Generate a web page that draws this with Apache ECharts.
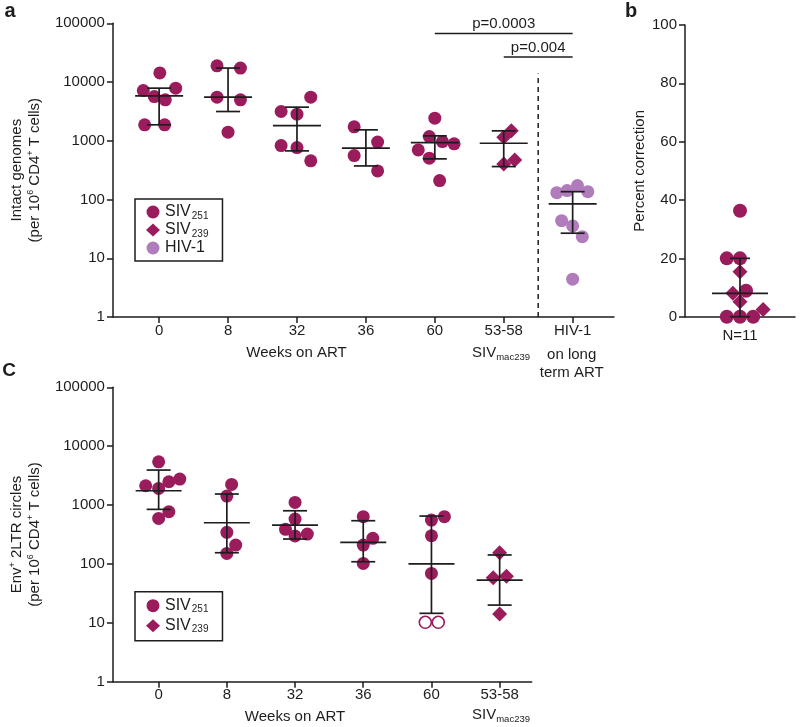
<!DOCTYPE html>
<html><head><meta charset="utf-8">
<script src="https://cdn.jsdelivr.net/npm/echarts@6/dist/echarts.min.js"></script>
<style>html,body{margin:0;padding:0;background:#fff}#c{width:800px;height:727px}</style>
</head><body><div id="c"></div>
<script>
// ---------- DATA ----------
const catA = ['0', '8', '32', '36', '60', '53-58', 'HIV-1'];
const catC = ['0', '8', '32', '36', '60', '53-58'];
// points: [category index, horizontal jitter (category units), value]
const aSIV251 = [
  [0, 0.01, 14300], [0, -0.23, 7160], [0, 0.24, 7870], [0, -0.07, 5660], [0, 0.09, 4980], [0, -0.21, 1870], [0, 0.08, 1870],
  [1, -0.16, 18900], [1, 0.18, 17300], [1, -0.16, 5530], [1, 0.18, 4980], [1, 0, 1400],
  [2, -0.23, 3150], [2, 0, 2840], [2, 0.2, 5530], [2, -0.23, 830], [2, 0, 765], [2, 0.2, 455],
  [3, -0.17, 1730], [3, 0.17, 950], [3, -0.17, 560], [3, 0.17, 307],
  [4, 0, 2430], [4, -0.08, 1180], [4, 0.11, 970], [4, 0.28, 886], [4, -0.24, 700], [4, -0.08, 505], [4, 0.07, 210]
];
const aSIV239 = [[5, 0.11, 1475], [5, 0, 1150], [5, 0.16, 473], [5, 0, 404]];
const aHIV = [[6, -0.23, 131], [6, -0.08, 142], [6, 0.07, 173], [6, 0.22, 136], [6, -0.16, 43.7], [6, 0, 35.5], [6, 0.14, 23.3], [6, 0, 4.4]];
// error bars: [category index, median, low, high]
const aBars = [[0, 5820, 1870, 7870], [1, 5530, 3150, 17300], [2, 1815, 673, 3735], [3, 748, 373, 1535], [4, 931, 492, 1212], [5, 908, 364, 1475], [6, 84, 26.7, 136]];
// significance brackets: [from category, to category, level]
const aSig = [[4, 6, 67000], [5, 6, 26600]];
const aSigLabels = ['p=0.0003', 'p=0.004'];
const aDivider = [[5.5, 1], [5.5, 14000]];

// panel b: [jitter, percent]
const bSIV251 = [[0, 36.3], [-0.24, 20], [0, 20], [0.11, 8.9], [-0.24, 0], [0, 0], [0.24, 0]];
const bSIV239 = [[0, 15.4], [-0.13, 8.0], [0, 5.1], [0.42, 2.5]];
const bBars = [[0, 8.0, 0, 20]];

// panel c
const cSIV251 = [
  [0, 0, 5430], [0, -0.19, 2130], [0, 0, 1920], [0, 0.15, 2490], [0, 0.31, 2760], [0, 0.15, 770], [0, 0, 594],
  [1, 0.07, 2245], [1, 0, 1420], [1, 0, 344], [1, 0.13, 209], [1, 0, 151],
  [2, 0, 1110], [2, 0, 578], [2, -0.14, 387], [2, 0, 298], [2, 0.18, 322],
  [3, 0, 634], [3, 0.14, 272], [3, 0, 209], [3, 0, 102],
  [4, 0, 556], [4, 0.19, 634], [4, 0, 301], [4, 0, 69]
];
const cSIV251Undetected = [[4, -0.09, 10.2], [4, 0.1, 10.2]];
const cSIV239 = [[5, 0, 155], [5, -0.095, 58], [5, 0.1, 62], [5, 0, 14.1]];
const cBars = [[0, 1750, 845, 3930], [1, 501, 155, 1540], [2, 457, 265, 800], [3, 233, 109, 542], [4, 100, 14.5, 650], [5, 53, 20, 142]];

// ---------- STYLE ----------
const FONT = 'Liberation Sans, Arial, Helvetica, sans-serif';
const MAIN = '#9b1c5d';
const HIVC = '#b07cbc';
const INK = '#1d1d1d';

const chart = echarts.init(document.getElementById('c'), null, {renderer: 'canvas'});

const toXY = pts => pts.map(p => [p[0] + p[1], p[2]]);

function errRenderer(mw, cw) {
  return function (params, api) {
    const x = api.value(0), m = api.value(1), lo = api.value(2), hi = api.value(3);
    const pm = api.coord([x, m]), pl = api.coord([x, lo]), ph = api.coord([x, hi]);
    const st = {stroke: INK, lineWidth: 1.7};
    return {type: 'group', children: [
      {type: 'line', shape: {x1: pl[0], y1: pl[1], x2: ph[0], y2: ph[1]}, style: st},
      {type: 'line', shape: {x1: pm[0] - mw, y1: pm[1], x2: pm[0] + mw, y2: pm[1]}, style: st},
      {type: 'line', shape: {x1: ph[0] - cw, y1: ph[1], x2: ph[0] + cw, y2: ph[1]}, style: st},
      {type: 'line', shape: {x1: pl[0] - cw, y1: pl[1], x2: pl[0] + cw, y2: pl[1]}, style: st}
    ]};
  };
}

const logY = (gi) => ({
  type: 'log', logBase: 10, min: 1, max: 100000, gridIndex: gi,
  axisLine: {show: true, onZero: false, lineStyle: {color: INK, width: 1.5}},
  axisTick: {show: true, length: 6, lineStyle: {color: INK, width: 1.5}},
  splitLine: {show: false}, minorTick: {show: false},
  axisLabel: {color: INK, fontSize: 15, fontFamily: FONT, margin: 8, formatter: v => String(Math.round(v))},
  nameLocation: 'middle', nameRotate: 90, nameGap: 62,
  nameTextStyle: {color: INK, fontSize: 15, fontFamily: FONT, lineHeight: 18,
    rich: {t: {fontSize: 15, fontFamily: FONT, color: INK, lineHeight: 18},
           sup: {fontSize: 9, fontFamily: FONT, color: INK, lineHeight: 18, verticalAlign: 'top'}}}
});

const catX = (gi, cats, min, max) => ({
  type: 'value', gridIndex: gi, min: min, max: max,
  axisLine: {show: true, onZero: false, lineStyle: {color: INK, width: 1.5}},
  axisTick: {show: true, length: 6, customValues: cats.map((c, i) => i), lineStyle: {color: INK, width: 1.5}},
  axisLabel: {customValues: cats.map((c, i) => i), color: INK, fontSize: 15, fontFamily: FONT, margin: 6,
    formatter: v => cats[Math.round(v)]},
  splitLine: {show: false}
});

const legendRich = {
  t: {fontSize: 16, fontFamily: FONT, color: INK, lineHeight: 18},
  sub: {fontSize: 10, fontFamily: FONT, color: INK, lineHeight: 18, verticalAlign: 'bottom', padding: [0, 0, 0, 1]}
};
const legendFmt = name => name === 'SIV251' ? '{t|SIV}{sub|251}' : name === 'SIV239' ? '{t|SIV}{sub|239}' : '{t|' + name + '}';

const gtext = (x, y, text, extra) => Object.assign({
  type: 'text', x: x, y: y,
  style: Object.assign({text: text, fill: INK, font: '15px ' + FONT, align: 'center', verticalAlign: 'middle'}, extra || {})
});

const option = {
  animation: false,
  backgroundColor: '#fff',
  textStyle: {fontFamily: FONT},
  grid: [
    {left: 106, top: 23.3, width: 508, height: 293.7},
    {left: 685, top: 25, width: 110, height: 291.7},
    {left: 105.3, top: 387.3, width: 426.4, height: 294.4}
  ],
  xAxis: [
    catX(0, catA, -0.67, 6.6),
    {type: 'value', gridIndex: 1, min: -1, max: 1,
      axisLine: {show: true, onZero: false, lineStyle: {color: INK, width: 1.5}},
      axisTick: {show: true, length: 6, customValues: [0], lineStyle: {color: INK, width: 1.5}},
      axisLabel: {customValues: [0], color: INK, fontSize: 15, fontFamily: FONT, margin: 12, formatter: () => 'N=11'},
      splitLine: {show: false}},
    catX(2, catC, -0.67, 5.47)
  ],
  yAxis: [
    Object.assign(logY(0), {name: '{t|Intact genomes}\n{t|(per 10}{sup|6}{t| CD4}{sup|+}{t| T cells)}'}),
    {type: 'value', gridIndex: 1, min: 0, max: 100, interval: 20,
      axisLine: {show: true, onZero: false, lineStyle: {color: INK, width: 1.5}},
      axisTick: {show: true, length: 6, lineStyle: {color: INK, width: 1.5}},
      splitLine: {show: false},
      axisLabel: {color: INK, fontSize: 15, fontFamily: FONT, margin: 8},
      name: 'Percent correction', nameLocation: 'middle', nameRotate: 90, nameGap: 38,
      nameTextStyle: {color: INK, fontSize: 15, fontFamily: FONT}},
    Object.assign(logY(2), {name: '{t|Env}{sup|+}{t| 2LTR circles}\n{t|(per 10}{sup|6}{t| CD4}{sup|+}{t| T cells)}'})
  ],
  legend: [
    {left: 135, top: 199, orient: 'vertical', itemWidth: 14, itemHeight: 13, itemGap: 1,
      padding: [5, 14, 5, 11], borderColor: INK, borderWidth: 1.5, selectedMode: false,
      data: [{name: 'SIV251', icon: 'circle'}, {name: 'SIV239', icon: 'diamond'}, {name: 'HIV-1', icon: 'circle'}],
      formatter: legendFmt, textStyle: {rich: legendRich}},
    {left: 135, top: 591.7, orient: 'vertical', itemWidth: 14, itemHeight: 13, itemGap: 3,
      padding: [6, 14, 6, 11], borderColor: INK, borderWidth: 1.5, selectedMode: false,
      data: [{name: 'SIV251', icon: 'circle'}, {name: 'SIV239', icon: 'diamond'}],
      formatter: legendFmt, textStyle: {rich: legendRich}}
  ],
  series: [
    // panel a
    {name: 'SIV251', type: 'scatter', xAxisIndex: 0, yAxisIndex: 0, symbol: 'circle', symbolSize: 13, clip: false,
      itemStyle: {color: MAIN, opacity: 1}, data: toXY(aSIV251), z: 2},
    {name: 'SIV239', type: 'scatter', xAxisIndex: 0, yAxisIndex: 0, symbol: 'diamond', symbolSize: 15, clip: false,
      itemStyle: {color: MAIN, opacity: 1}, data: toXY(aSIV239), z: 2},
    {name: 'HIV-1', type: 'scatter', xAxisIndex: 0, yAxisIndex: 0, symbol: 'circle', symbolSize: 13, clip: false,
      itemStyle: {color: HIVC, opacity: 1}, data: toXY(aHIV), z: 2},
    {type: 'custom', xAxisIndex: 0, yAxisIndex: 0, renderItem: errRenderer(24, 12), data: aBars, z: 5, clip: false,
      encode: {x: 0, y: [1, 2, 3]}, silent: true},
    {type: 'line', xAxisIndex: 0, yAxisIndex: 0, data: aDivider, symbol: 'none', silent: true,
      lineStyle: {color: INK, width: 1.5, type: [5, 4]}},
    {type: 'custom', xAxisIndex: 0, yAxisIndex: 0, clip: false, silent: true, data: aSig, z: 5,
      encode: {x: [0, 1], y: 2},
      renderItem: function (params, api) {
        const p1 = api.coord([api.value(0), api.value(2)]);
        const p2 = api.coord([api.value(1), api.value(2)]);
        return {type: 'group', children: [
          {type: 'line', shape: {x1: p1[0], y1: p1[1], x2: p2[0], y2: p2[1]}, style: {stroke: INK, lineWidth: 1.5}},
          {type: 'text', x: (p1[0] + p2[0]) / 2, y: p1[1] - 2,
            style: {text: aSigLabels[params.dataIndex], fill: INK, font: '15px ' + FONT, align: 'center', verticalAlign: 'bottom'}}
        ]};
      }},
    // panel b
    {name: 'SIV251', type: 'scatter', xAxisIndex: 1, yAxisIndex: 1, symbol: 'circle', symbolSize: 14, clip: false,
      itemStyle: {color: MAIN, opacity: 1}, data: bSIV251, z: 2},
    {name: 'SIV239', type: 'scatter', xAxisIndex: 1, yAxisIndex: 1, symbol: 'diamond', symbolSize: 15, clip: false,
      itemStyle: {color: MAIN, opacity: 1}, data: bSIV239, z: 2},
    {type: 'custom', xAxisIndex: 1, yAxisIndex: 1, renderItem: errRenderer(28, 10), data: bBars, z: 5, clip: false,
      encode: {x: 0, y: [1, 2, 3]}, silent: true},
    // panel c
    {name: 'SIV251', type: 'scatter', xAxisIndex: 2, yAxisIndex: 2, symbol: 'circle', symbolSize: 13, clip: false,
      itemStyle: {color: MAIN, opacity: 1}, data: toXY(cSIV251), z: 2},
    {name: 'SIV251 undetectable', type: 'scatter', xAxisIndex: 2, yAxisIndex: 2, symbol: 'circle', symbolSize: 12, clip: false,
      itemStyle: {color: '#fff', borderColor: MAIN, borderWidth: 1.6, opacity: 1}, data: toXY(cSIV251Undetected), z: 2},
    {name: 'SIV239', type: 'scatter', xAxisIndex: 2, yAxisIndex: 2, symbol: 'diamond', symbolSize: 15, clip: false,
      itemStyle: {color: MAIN, opacity: 1}, data: toXY(cSIV239), z: 2},
    {type: 'custom', xAxisIndex: 2, yAxisIndex: 2, renderItem: errRenderer(23, 12), data: cBars, z: 5, clip: false,
      encode: {x: 0, y: [1, 2, 3]}, silent: true}
  ],
  graphic: [
    gtext(10, 11, 'a', {font: 'bold 20px ' + FONT}),
    gtext(631, 11, 'b', {font: 'bold 20px ' + FONT}),
    gtext(9, 371, 'C', {font: 'bold 19px ' + FONT}),
    gtext(296.5, 352.7, 'Weeks on ART'),
    gtext(501, 353.3, '{t|SIV}{sub|mac239}', {rich: {t: {font: '15px ' + FONT, fill: INK, lineHeight: 18},
      sub: {font: '9.5px ' + FONT, fill: INK, lineHeight: 18, verticalAlign: 'bottom'}}}),
    gtext(571.7, 364, 'on long\nterm ART', {lineHeight: 17.7}),
    gtext(295, 717.3, 'Weeks on ART'),
    gtext(501, 715.3, '{t|SIV}{sub|mac239}', {rich: {t: {font: '15px ' + FONT, fill: INK, lineHeight: 18},
      sub: {font: '9.5px ' + FONT, fill: INK, lineHeight: 18, verticalAlign: 'bottom'}}})
  ]
};
chart.setOption(option);
</script>
</body></html>
